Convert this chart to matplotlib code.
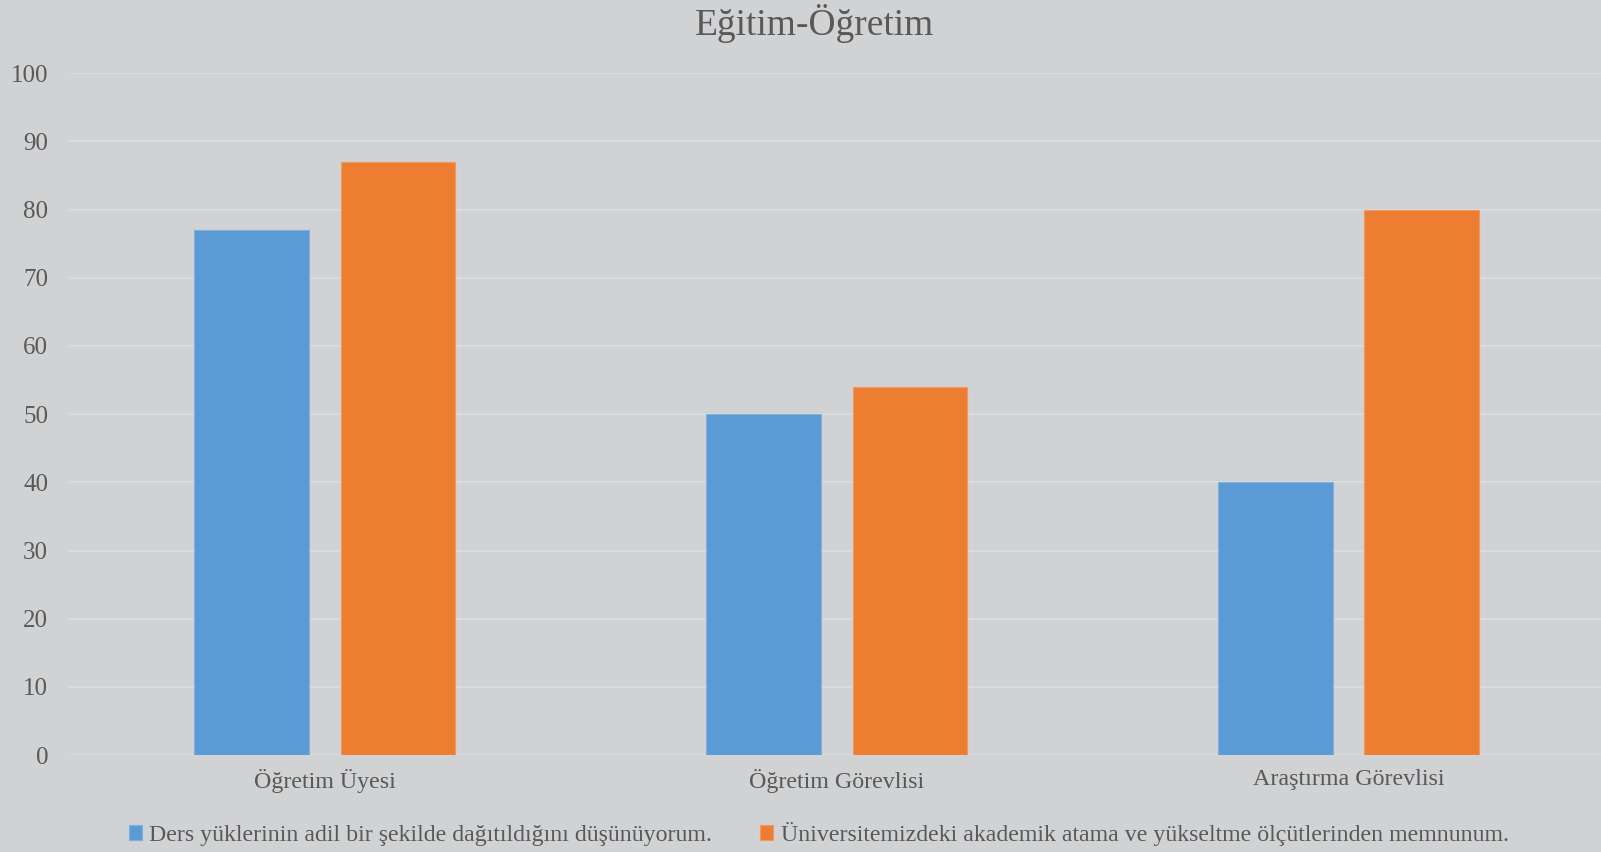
import numpy as np
import matplotlib.pyplot as plt

# data
categories = ["Öğretim Üyesi", "Öğretim Görevlisi", "Araştırma Görevlisi"]
series_names = ["Ders yüklerinin adil bir şekilde dağıtıldığını düşünüyorum.",
                "Üniversitemizdeki akademik atama ve yükseltme ölçütlerinden memnunum."]
ders_yukleri = [77, 50, 40]
atama_olcutleri = [87, 54, 80]
yticks = list(range(0, 101, 10))

bg = "#D1D2D4"
txt = "#595959"
plt.rcParams['font.family'] = ['Liberation Serif', 'DejaVu Serif']

fig = plt.figure(figsize=(16.01, 8.52), dpi=100, facecolor=bg)
ax = fig.add_axes([0.0431, 0.1138, 0.9590, 0.8002], facecolor=bg)

x = np.arange(len(categories))
w = 0.224
ax.bar(x - 0.143, ders_yukleri, w, color="#5B9BD5", edgecolor="#7FB0DE",
       linewidth=0.8, label=series_names[0], zorder=3)
ax.bar(x + 0.143, atama_olcutleri, w, color="#ED7D31", edgecolor="#F09A63",
       linewidth=0.8, label=series_names[1], zorder=3)

ax.set_xlim(-0.5, 2.5)
ax.set_ylim(0, 100)
ax.set_yticks(yticks)
ax.set_xticks(x)
ax.set_xticklabels(categories)
ax.yaxis.grid(True, color="#DADBDD", linewidth=1.5, zorder=0)
for s in ax.spines.values():
    s.set_visible(False)
ax.tick_params(length=0, colors=txt)
ax.tick_params(axis='y', pad=15, labelsize=18)
ax.tick_params(axis='x', pad=10, labelsize=17.3)

fig.text(0.509, 0.995, "Eğitim-Öğretim", fontsize=27, color=txt, ha='center', va='top')

leg = fig.legend(loc='center', bbox_to_anchor=(0.5115, 0.021), ncol=2, frameon=False,
                 fontsize=17.2, handlelength=0.55, handleheight=0.55,
                 handletextpad=0.3, columnspacing=2.0, labelcolor=txt)

fig.savefig("out.png", dpi=100, facecolor=bg)
